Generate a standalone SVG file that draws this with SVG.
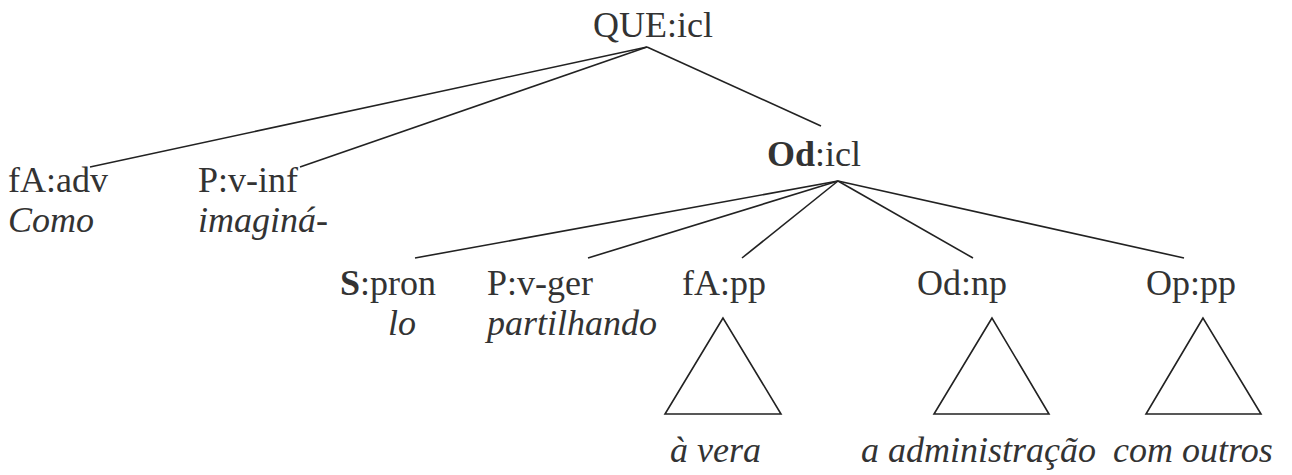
<svg xmlns="http://www.w3.org/2000/svg" width="1292" height="475" viewBox="0 0 1292 475" font-family="'Liberation Serif', 'DejaVu Serif', serif">
<style>
text{font-family:"Liberation Serif","DejaVu Serif",serif;font-size:36px;fill:#333}
.i{font-style:italic}
.b{font-weight:bold}
.e line,.t polygon{stroke:#222;stroke-width:1.6;fill:none}
</style>
<rect width="1292" height="475" fill="#fff"/>
<g class="e" id="connectors">
<line x1="647" y1="47" x2="90" y2="167"/>
<line x1="647" y1="47" x2="300" y2="167"/>
<line x1="647" y1="47" x2="821" y2="126"/>
<line x1="838" y1="181" x2="415" y2="258"/>
<line x1="838" y1="181" x2="588" y2="258"/>
<line x1="838" y1="181" x2="742" y2="258"/>
<line x1="838" y1="181" x2="973" y2="258"/>
<line x1="838" y1="181" x2="1184" y2="258"/>
</g>
<g id="n-que"><text x="593" y="37">QUE:icl</text></g>
<g id="n-fa-adv"><text x="8" y="192">fA:adv</text><text class="i" x="8" y="232">Como</text></g>
<g id="n-p-vinf"><text x="198" y="192">P:v-inf</text><text class="i" x="198" y="232">imaginá-</text></g>
<g id="n-od-icl"><text x="767" y="166"><tspan class="b">Od</tspan>:icl</text></g>
<g id="n-s-pron"><text x="340" y="295"><tspan class="b">S</tspan>:pron</text><text class="i" x="388" y="335">lo</text></g>
<g id="n-p-vger"><text x="487" y="295">P:v-ger</text><text class="i" x="487" y="335">partilhando</text></g>
<g id="n-fa-pp" class="t"><text x="682" y="295">fA:pp</text><polygon points="723,318 665,414 781,414"/><text class="i" x="670" y="462">à vera</text></g>
<g id="n-od-np" class="t"><text x="917" y="295">Od:np</text><polygon points="992,318 934,414 1049,414"/><text class="i" x="861" y="462">a administração</text></g>
<g id="n-op-pp" class="t"><text x="1146" y="295">Op:pp</text><polygon points="1203,318 1146,414 1261,414"/><text class="i" x="1113" y="462">com outros</text></g>
</svg>
